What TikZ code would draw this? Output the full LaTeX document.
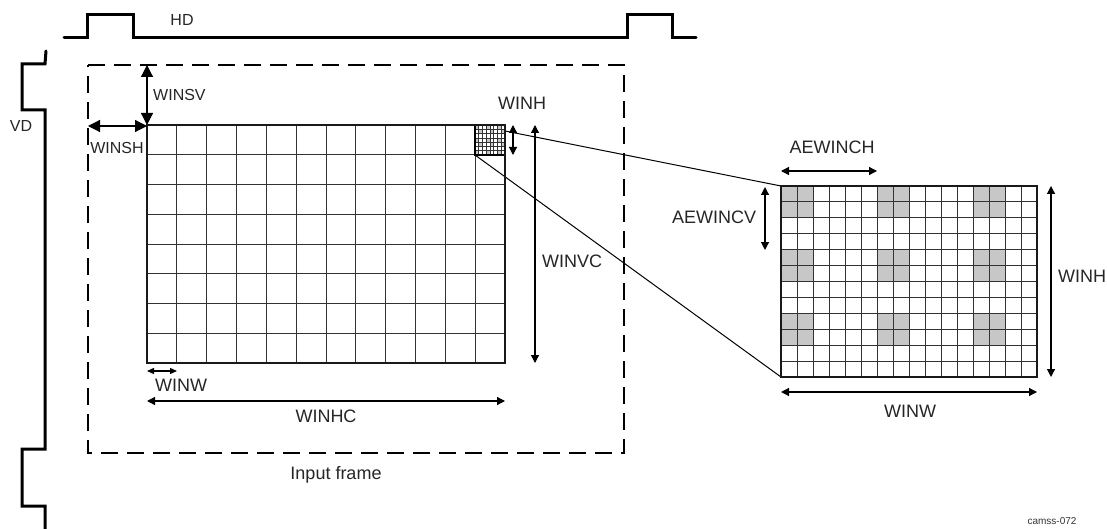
\documentclass[tikz,border=0pt]{standalone}
\usepackage{fontspec}
\setmainfont{Liberation Sans}
\usetikzlibrary{arrows.meta}
\begin{document}
\begin{tikzpicture}[x=1pt,y=-1pt,
  lbl/.style={font=\fontsize{18}{21}\selectfont, inner sep=0pt, text=black!85},
  lblsm/.style={font=\fontsize{16}{19}\selectfont, inner sep=0pt, text=black!85},
  wave/.style={line width=3pt, line join=miter, line cap=round},
  dimbig/.style={line width=1.2pt, {Triangle[length=12pt,width=12pt]}-{Triangle[length=12pt,width=12pt]}},
  dimsm/.style={line width=1.2pt, {Triangle[length=8pt,width=8pt]}-{Triangle[length=8pt,width=8pt]}},
  gridline/.style={line width=1.1pt, black!80},
  fineline/.style={line width=0.7pt, black!80},
  border/.style={line width=2.6pt, black!90},
  cellgray/.style={fill=black!22},
  zoomline/.style={line width=1pt}
]
\useasboundingbox[fill=white] (0,0) rectangle (1107,529);

% sync waveforms
\draw[wave] (64,38) -- (87,38) -- (87,15) -- (133,15) -- (133,38) -- (627,38) -- (627,15) -- (672,15) -- (672,38) -- (696,38);
\draw[wave] (46,51) -- (45,64) -- (22,64) -- (22,110) -- (45,110) -- (45,449) -- (22,449) -- (22,506) -- (45,506) -- (45,529);
\node[lblsm] (hd) at (182,20) {HD};
\node[lblsm] (vd) at (21,126) {VD};

% input frame
\draw[line width=1.8pt, dash pattern=on 17pt off 9pt] (88,65) -- (624,65) -- (624,453) -- (88,453) -- cycle;
\node[lbl] (inframe) at (336,475) {Input frame};

% main window grid
\coordinate (gTL) at (147,125);
\coordinate (gTR) at (505,125);
\coordinate (gBL) at (147,363);
\coordinate (gBR) at (505,363);
\foreach \xx in {176.5,206.5,236.5,266.5,296.5,326.5,355.5,385.5,415.5,445.5,475.5} \draw[gridline] (\xx,125) -- (\xx,363);
\foreach \yy in {154.5,184.5,214.5,244.5,273.5,303.5,333.5} \draw[gridline] (147,\yy) -- (505,\yy);

% zoom lines
\coordinate (sTL) at (475,125);
\coordinate (sBL) at (475,155);
\coordinate (mTL) at (781,186);
\coordinate (mBL) at (781,377);
\draw[zoomline] (sTL) -- (mTL);
\draw[zoomline] (sBL) -- (mBL);

% fine grid inside top-right cell
\fill[white] (475,125) rectangle (505,155);
\foreach \c in {0,3,6} \foreach \r in {0,3,6} \fill[cellgray] ({475+\c*3.75},{125+\r*4.2857}) rectangle ({475+(\c+1)*3.75},{125+(\r+1)*4.2857});
\foreach \c in {1,4,7} \foreach \r in {1,4} \fill[cellgray] ({475+\c*3.75},{125+\r*4.2857}) rectangle ({475+(\c+1)*3.75},{125+(\r+1)*4.2857});
\foreach \i in {1,...,7} \draw[fineline] ({475+\i*3.75},125) -- ({475+\i*3.75},155);
\foreach \j in {1,...,6} \draw[fineline] (475,{125+\j*4.2857}) -- (505,{125+\j*4.2857});
\draw[line width=1.3pt] (475,125) rectangle (505,155);
\draw[border] (gTL) -- (gTR) -- (gBR) -- (gBL) -- cycle;

% magnified window
\foreach \c in {0,6,12} \foreach \r in {0,4,8}
  \fill[cellgray] ({781+\c*16},{186+\r*15.917}) rectangle ({781+(\c+2)*16},{186+(\r+2)*15.917});
\foreach \i in {1,...,15} \draw[gridline] ({781.5+\i*16},186) -- ({781.5+\i*16},377);
\foreach \j in {1,...,11} {
  \pgfmathsetmacro\yy{floor(186+\j*15.917)+0.5}
  \draw[gridline] (781,\yy) -- (1037,\yy);
}
\coordinate (mTR) at (1037,186);
\coordinate (mBR) at (1037,377);
\draw[border] (mTL) -- (mTR) -- (mBR) -- (mBL) -- cycle;

% dimension arrows, left part
\coordinate (fTop) at (147,65);
\coordinate (fLeft) at (88,126);
\coordinate (gL126) at (147,126);
\draw[dimbig] (fTop) -- (gTL);
\node[lblsm, anchor=west] (winsv) at (153,95) {WINSV};
\draw[dimbig] (fLeft) -- (gL126);
\node[lblsm] (winsh) at (117,148) {WINSH};

\coordinate (whA) at (513,125);
\coordinate (whB) at (513,155);
\draw[dimsm] (whA) -- (whB);
\node[lbl] (winh1) at (522,103) {WINH};

\coordinate (wvA) at (535,125);
\coordinate (wvB) at (535,363);
\draw[dimsm] (wvA) -- (wvB);
\node[lbl] (winvc) at (572,261) {WINVC};

\coordinate (wwA) at (147,371);
\coordinate (wwB) at (177,371);
\draw[line width=1.2pt, {Triangle[length=7pt,width=6pt]}-{Triangle[length=7pt,width=6pt]}] (wwA) -- (wwB);
\node[lbl] (winw1) at (181,385) {WINW};

\coordinate (whcA) at (147,401);
\coordinate (whcB) at (505,401);
\draw[dimsm] (whcA) -- (whcB);
\node[lbl] (winhc) at (326,416) {WINHC};

% dimension arrows, magnified part
\coordinate (aehA) at (781,171);
\coordinate (aehB) at (877,171);
\draw[dimsm] (aehA) -- (aehB);
\node[lbl] (aewinch) at (832,147) {AEWINCH};

\coordinate (aevA) at (765,187);
\coordinate (aevB) at (765,250);
\draw[dimsm] (aevA) -- (aevB);
\node[lbl] (aewincv) at (714,217) {AEWINCV};

\coordinate (wh2A) at (1051,186);
\coordinate (wh2B) at (1051,377);
\draw[dimsm] (wh2A) -- (wh2B);
\node[lbl] (winh2) at (1082,276) {WINH};

\coordinate (ww2A) at (781,392);
\coordinate (ww2B) at (1037,392);
\draw[dimsm] (ww2A) -- (ww2B);
\node[lbl] (winw2) at (910,411) {WINW};

\node[font=\fontsize{10}{12}\selectfont, inner sep=0pt, text=black!80] (camss) at (1052,521) {camss-072};
\end{tikzpicture}
\end{document}
